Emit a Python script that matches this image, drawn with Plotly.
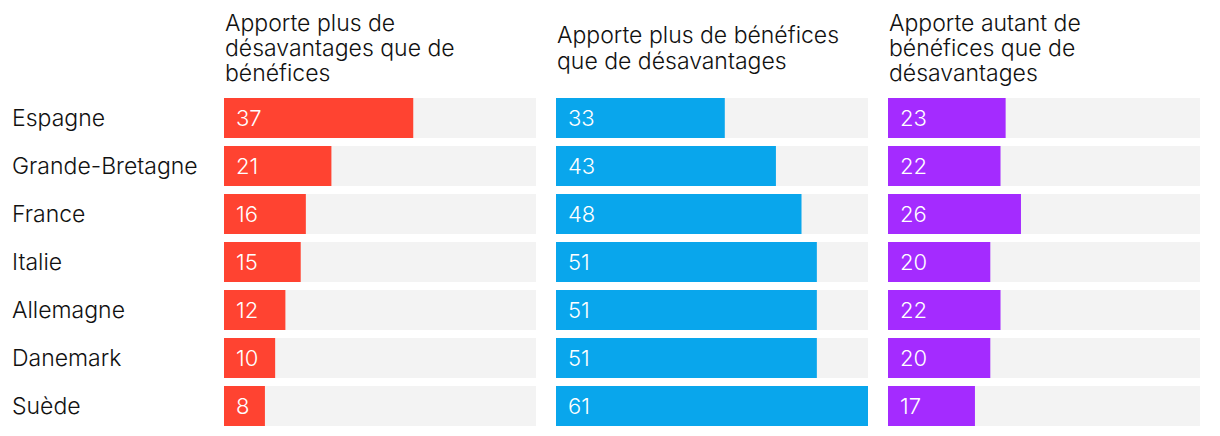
import plotly.graph_objects as go

countries = ["Espagne", "Grande-Bretagne", "France", "Italie", "Allemagne", "Danemark", "Suède"]
plus_desavantages = [37, 21, 16, 15, 12, 10, 8]
plus_benefices = [33, 43, 48, 51, 51, 51, 61]
autant = [23, 22, 26, 20, 22, 20, 17]

titles = [
    ["Apporte plus de", "désavantages que de", "bénéfices"],
    ["Apporte plus de bénéfices", "que de désavantages"],
    ["Apporte autant de", "bénéfices que de", "désavantages"],
]
colors = ["#FF4331", "#09A6EC", "#A42BFF"]
series = [plus_desavantages, plus_benefices, autant]
max_val = max(max(s) for s in series)

W, H = 1220, 436
FONT = "Inter"
TXT = "#111111"
panels_px = [(224, 536), (556, 868), (888, 1200)]
y_top_px, y_bot_px = 94, 430

fig = go.Figure()
layout = dict(
    width=W, height=H,
    margin=dict(l=0, r=0, t=0, b=0),
    paper_bgcolor="white", plot_bgcolor="white",
    barmode="overlay", bargap=1/6,
    showlegend=False,
    font=dict(family=FONT, size=22, color=TXT),
)
annotations = []
for i, (vals, col, title) in enumerate(zip(series, colors, titles)):
    ax = "" if i == 0 else str(i + 1)
    xr, yr = "x" + ax, "y" + ax
    fig.add_trace(go.Bar(
        y=countries, x=[max_val] * len(countries), orientation="h",
        marker=dict(color="#F3F3F3", line=dict(width=0)),
        xaxis=xr, yaxis=yr, hoverinfo="skip",
    ))
    fig.add_trace(go.Bar(
        y=countries, x=vals, orientation="h",
        marker=dict(color=col, line=dict(width=0)),
        xaxis=xr, yaxis=yr,
    ))
    x0, x1 = panels_px[i]
    layout["xaxis" + ax] = dict(
        domain=[x0 / W, x1 / W], range=[0, max_val], visible=False, fixedrange=True,
        anchor=yr,
    )
    layout["yaxis" + ax] = dict(
        domain=[1 - y_bot_px / H, 1 - y_top_px / H], autorange="reversed",
        visible=False, anchor=xr, categoryorder="array", categoryarray=countries,
    )
    for c, v in zip(countries, vals):
        annotations.append(dict(
            x=0, y=c, xref=xr, yref=yr, text=str(v), showarrow=False,
            xanchor="left", yanchor="middle", xshift=10,
            font=dict(family=FONT, size=22, color="white", weight=300),
        ))
    n = len(title)
    centre = 48
    for k, line in enumerate(title):
        yc = centre + (k - (n - 1) / 2) * 25
        annotations.append(dict(
            x=(x0 - 1) / W, y=1 - yc / H, xref="paper", yref="paper", text=line,
            showarrow=False, xanchor="left", yanchor="middle", align="left",
            font=dict(family=FONT, size=23, color=TXT, weight=350),
        ))

for c in countries:
    annotations.append(dict(
        x=10 / W, y=c, xref="paper", yref="y", text=c, showarrow=False,
        xanchor="left", yanchor="middle",
        font=dict(family=FONT, size=23, color=TXT, weight=350),
    ))

layout["annotations"] = annotations
fig.update_layout(**layout)
fig.write_html("out.html", post_script="document.body.style.margin='0';",
               config={"displayModeBar": False})
